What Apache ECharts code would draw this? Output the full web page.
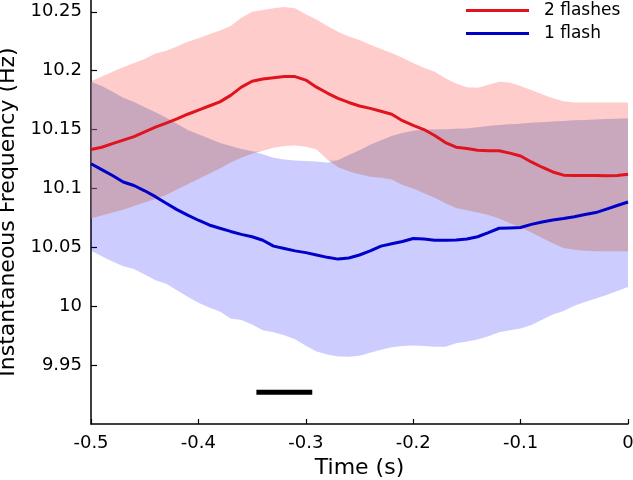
<!DOCTYPE html>
<html>
<head>
<meta charset="utf-8">
<script src="https://cdn.jsdelivr.net/npm/echarts@6/dist/echarts.min.js"></script>
<style>
html,body{margin:0;padding:0;background:#fff;}
#chart{width:633px;height:480px;}
</style>
</head>
<body>
<div id="chart"></div>
<script>
// Time (s)
const timeS = [-0.5,-0.49,-0.48,-0.47,-0.46,-0.45,-0.44,-0.43,-0.42,-0.41,-0.4,-0.39,-0.38,-0.37,-0.36,-0.35,-0.34,-0.33,-0.32,-0.31,-0.3,-0.29,-0.28,-0.27,-0.26,-0.25,-0.24,-0.23,-0.22,-0.21,-0.2,-0.19,-0.18,-0.17,-0.16,-0.15,-0.14,-0.13,-0.12,-0.11,-0.1,-0.09,-0.08,-0.07,-0.06,-0.05,-0.04,-0.03,-0.02,-0.01,0];

// 2 flashes: mean and band
const twoMean = [10.133,10.135,10.138,10.141,10.144,10.148,10.152,10.1555,10.159,10.163,10.1665,10.170,10.1735,10.179,10.186,10.191,10.193,10.194,10.195,10.195,10.192,10.186,10.181,10.1765,10.173,10.170,10.168,10.1655,10.163,10.1575,10.1535,10.150,10.145,10.139,10.135,10.134,10.1325,10.132,10.132,10.130,10.1275,10.1225,10.118,10.114,10.1113,10.111,10.111,10.111,10.1108,10.111,10.112];
const twoUpper = [10.191,10.195,10.199,10.203,10.2065,10.210,10.2145,10.217,10.2205,10.2245,10.2275,10.231,10.234,10.238,10.245,10.250,10.2515,10.253,10.254,10.253,10.248,10.2435,10.238,10.233,10.229,10.226,10.222,10.2185,10.215,10.211,10.2065,10.2025,10.199,10.1935,10.189,10.186,10.1855,10.188,10.1905,10.190,10.187,10.1835,10.180,10.1765,10.174,10.173,10.173,10.173,10.173,10.173,10.173];
const twoLower = [10.0745,10.077,10.0795,10.082,10.085,10.088,10.091,10.0945,10.099,10.1035,10.108,10.1125,10.117,10.122,10.126,10.1295,10.132,10.1345,10.136,10.1365,10.1355,10.133,10.1245,10.118,10.1145,10.112,10.110,10.109,10.1075,10.103,10.100,10.096,10.092,10.0875,10.0835,10.0815,10.0795,10.0775,10.0745,10.0705,10.067,10.0625,10.058,10.0535,10.0495,10.048,10.047,10.0467,10.0467,10.0467,10.0467];

// 1 flash: mean and band
const oneMean = [10.121,10.116,10.111,10.1055,10.1025,10.098,10.093,10.0875,10.082,10.0773,10.073,10.069,10.0662,10.0635,10.061,10.059,10.056,10.051,10.049,10.047,10.0455,10.0435,10.0415,10.040,10.041,10.0435,10.047,10.051,10.053,10.055,10.0575,10.057,10.056,10.056,10.0562,10.057,10.059,10.0625,10.0662,10.0665,10.0668,10.0695,10.0715,10.0732,10.0745,10.076,10.0778,10.0795,10.0825,10.0855,10.0885];
const oneUpper = [10.1905,10.187,10.182,10.177,10.1735,10.169,10.1647,10.160,10.155,10.1496,10.146,10.1425,10.1385,10.136,10.1335,10.1315,10.129,10.126,10.1245,10.1237,10.1233,10.1228,10.1218,10.124,10.1285,10.1325,10.137,10.141,10.1445,10.147,10.149,10.1498,10.150,10.1503,10.1507,10.151,10.152,10.153,10.1538,10.1545,10.155,10.1557,10.1563,10.1568,10.1573,10.1578,10.1582,10.1586,10.1589,10.1592,10.1595];
const oneLower = [10.047,10.0425,10.038,10.034,10.0315,10.027,10.022,10.019,10.0135,10.008,10.003,9.999,9.9955,9.9895,9.9882,9.9845,9.9795,9.9778,9.9754,9.972,9.9665,9.9615,9.959,9.9573,9.957,9.958,9.9605,9.963,9.9652,9.9662,9.9667,9.9662,9.9655,9.9655,9.9685,9.970,9.9718,9.9745,9.978,9.9795,9.981,9.984,9.9885,9.993,9.996,10.0005,10.0035,10.0065,10.0095,10.013,10.0164];

// stimulus bar
const stimX = [-0.346, -0.294];
const stimY = 9.927;

const legendNames = ['2 flashes', '1 flash'];

const FONT = 'DejaVu Sans';
const pairs = (ys) => timeS.map((t, i) => [t, ys[i]]);

// overlap of the two bands (zero height where they do not overlap)
const ovLower = timeS.map((t, i) => Math.max(oneLower[i], twoLower[i]));
const ovUpper = timeS.map((t, i) => Math.max(ovLower[i], Math.min(oneUpper[i], twoUpper[i])));

function bandSeries(name, lo, hi, fill) {
  return {
    type: 'custom', name: name, silent: true,
    data: timeS.map((t, i) => [t, lo[i], hi[i]]),
    encode: { x: 0, y: [1, 2] },
    renderItem: function (params, api) {
      if (params.dataIndex !== 0) return null;
      const pts = [];
      for (let i = 0; i < timeS.length; i++) pts.push(api.coord([timeS[i], hi[i]]));
      for (let i = timeS.length - 1; i >= 0; i--) pts.push(api.coord([timeS[i], lo[i]]));
      return { type: 'polygon', shape: { points: pts }, style: { fill: fill, stroke: null } };
    }
  };
}

const chart = echarts.init(document.getElementById('chart'), null, { renderer: 'canvas' });
chart.setOption({
  animation: false,
  backgroundColor: '#fff',
  textStyle: { fontFamily: FONT },
  grid: { left: 91, right: 5, top: 0, bottom: 56, containLabel: false, outerBoundsMode: 'none' },
  legend: {
    data: legendNames,
    orient: 'vertical',
    left: 461, top: -3,
    icon: 'rect', itemWidth: 63, itemHeight: 3, itemGap: 6,
    textStyle: { fontFamily: FONT, fontSize: 17, color: '#000', padding: [0, 0, 0, 10] }
  },
  xAxis: {
    type: 'value', min: -0.5, max: 0, interval: 0.1,
    name: 'Time (s)', nameLocation: 'middle', nameGap: 30,
    nameTextStyle: { fontFamily: FONT, fontSize: 22, color: '#000' },
    axisLine: { onZero: false, lineStyle: { color: '#000', width: 1.5 } },
    axisTick: { inside: true, length: 5, lineStyle: { color: '#000', width: 1.2 } },
    axisLabel: { color: '#000', fontSize: 18, fontFamily: FONT, margin: 10,
      formatter: v => String(Number(v.toFixed(1))) },
    splitLine: { show: false }
  },
  yAxis: {
    type: 'value', min: 9.9, max: 10.26, interval: 0.05,
    name: 'Instantaneous Frequency (Hz)', nameLocation: 'middle', nameGap: 55,
    nameTextStyle: { fontFamily: FONT, fontSize: 22, color: '#000' },
    axisLine: { onZero: false, lineStyle: { color: '#000', width: 1.5 } },
    axisTick: { inside: true, length: 6, lineStyle: { color: '#000', width: 1.2 } },
    axisLabel: { color: '#000', fontSize: 18, fontFamily: FONT, margin: 9,
      showMinLabel: false, showMaxLabel: false,
      formatter: v => String(Number(v.toFixed(2))) },
    splitLine: { show: false }
  },
  series: [
    bandSeries('oneBand', oneLower, oneUpper, 'rgba(0,0,255,0.2)'),
    bandSeries('overlapTint', ovLower, ovUpper, 'rgba(151,227,198,0.3)'),
    { type: 'line', name: '1 flash', data: pairs(oneMean), symbol: 'none', color: '#0000c8',
      lineStyle: { color: '#0000c8', width: 3 } },
    bandSeries('twoBand', twoLower, twoUpper, 'rgba(255,0,0,0.2)'),
    { type: 'line', name: '2 flashes', data: pairs(twoMean), symbol: 'none', color: '#e0141e',
      lineStyle: { color: '#e0141e', width: 3 } },
    { type: 'line', name: 'stim', data: stimX.map(x => [x, stimY]), symbol: 'none', silent: true,
      lineStyle: { color: '#000', width: 5 } }
  ]
});
</script>
</body>
</html>
